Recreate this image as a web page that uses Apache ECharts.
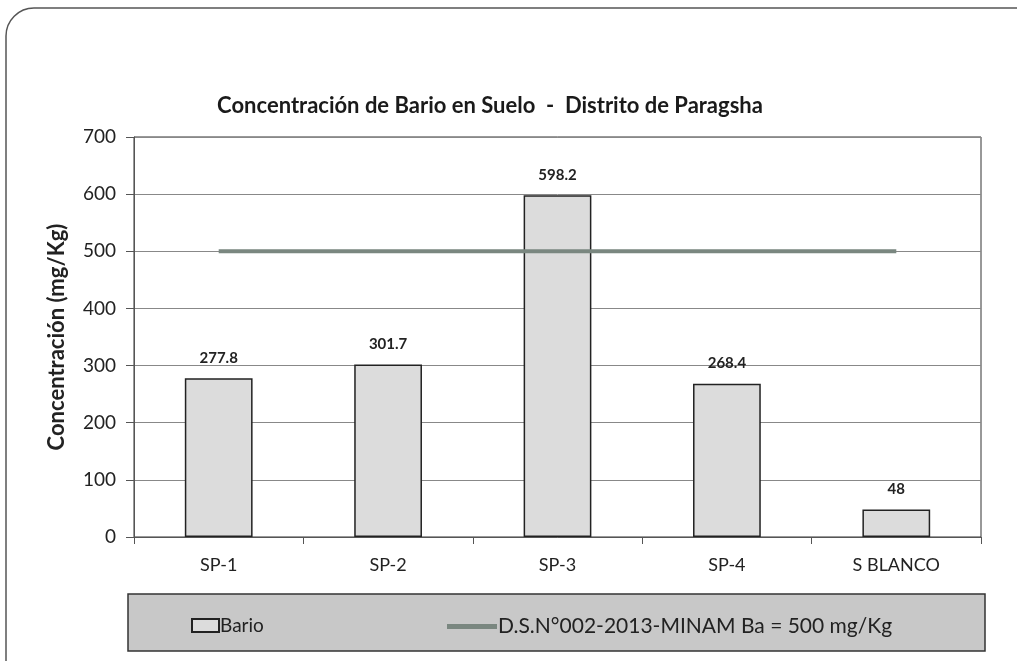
<!DOCTYPE html>
<html lang="es">
	<head>
		<meta charset="UTF-8" />
		<title>Bario en Suelo</title>
		<script src="https://cdn.jsdelivr.net/npm/echarts@6/dist/echarts.min.js"></script>
		<style>
			html, body { margin: 0; padding: 0; background: #fff; }
			#chart { width: 1017px; height: 661px; }
		</style>
	</head>
	<body>
		<div id="chart"></div>
		<script>
			const categories = ['SP-1', 'SP-2', 'SP-3', 'SP-4', 'S BLANCO']
			const bario = [277.8, 301.7, 598.2, 268.4, 48]
			const limite = [500, 500, 500, 500, 500]
			const yTicks = { min: 0, max: 700, interval: 100 }

			const font = 'Lato, "Open Sans", sans-serif'
			const chart = echarts.init(document.getElementById('chart'), null, { renderer: 'canvas' })

			const option = {
				backgroundColor: '#fff',
				textStyle: { fontFamily: font },
				title: {
					text: 'Concentración de Bario en Suelo  -  Distrito de Paragsha',
					left: 485,
					textAlign: 'center',
					top: 90,
					textStyle: { fontFamily: font, fontSize: 22, fontWeight: 'bold', color: '#1a1a1a' }
				},
				graphic: [
					{
						type: 'rect',
						shape: { x: 6, y: 8, width: 1200, height: 800, r: 28 },
						style: { fill: 'none', stroke: '#555', lineWidth: 1.5 },
						z: -10
					},
					{
						type: 'rect',
						shape: { x: 128, y: 594, width: 857, height: 57 },
						style: { fill: '#c8c8c8', stroke: '#333', lineWidth: 1.5 },
						z: -5
					}
				],
				legend: [
					{
						data: [{ name: 'Bario', icon: 'rect' }],
						left: 186,
						top: 611,
						itemWidth: 27,
						itemHeight: 13,
						itemGap: 2,
						textStyle: { fontFamily: font, fontSize: 19, color: '#222', padding: [0, 0, 0, -4] }
					},
					{
						data: [{ name: 'D.S.N°002-2013-MINAM Ba = 500 mg/Kg', icon: 'rect' }],
						left: 442,
						top: 611,
						itemWidth: 50,
						itemHeight: 5,
						textStyle: { fontFamily: font, fontSize: 21, color: '#222', padding: [0, 0, 0, -4] }
					}
				],
				grid: {
					left: 134,
					right: 36,
					top: 137,
					bottom: 124,
					show: true,
					borderColor: '#333',
					borderWidth: 1
				},
				xAxis: {
					type: 'category',
					data: categories,
					axisLine: { lineStyle: { color: '#555', width: 1 } },
					axisTick: { show: true, length: 7, lineStyle: { color: '#555' } },
					axisLabel: { fontFamily: font, fontSize: 18, color: '#222', margin: 19 }
				},
				yAxis: {
					type: 'value',
					min: yTicks.min,
					max: yTicks.max,
					interval: yTicks.interval,
					name: 'Concentración (mg/Kg)',
					nameLocation: 'middle',
					nameGap: 66,
					nameTextStyle: { fontFamily: font, fontSize: 22, fontWeight: 'bold', color: '#222' },
					axisLine: { show: true, lineStyle: { color: '#555', width: 1 } },
					axisTick: { show: true, length: 8, lineStyle: { color: '#555' } },
					axisLabel: { fontFamily: font, fontSize: 19, color: '#222', margin: 18 },
					splitLine: { lineStyle: { color: '#888', width: 1 } }
				},
				series: [
					{
						name: 'Bario',
						type: 'bar',
						data: bario,
						barWidth: '40%',
						itemStyle: { color: '#dcdcdc', borderColor: '#222', borderWidth: 1.5 },
						label: {
							show: true,
							position: 'top',
							distance: 13,
							fontFamily: font,
							fontSize: 15,
							fontWeight: 'bold',
							color: '#222'
						},
						z: 2
					},
					{
						name: 'D.S.N°002-2013-MINAM Ba = 500 mg/Kg',
						type: 'line',
						data: limite,
						showSymbol: false,
						symbol: 'none',
						lineStyle: { color: '#7a8780', width: 4 },
						itemStyle: { color: '#7a8780' },
						z: 3
					}
				]
			}
			chart.setOption(option)
		</script>
	</body>
</html>
